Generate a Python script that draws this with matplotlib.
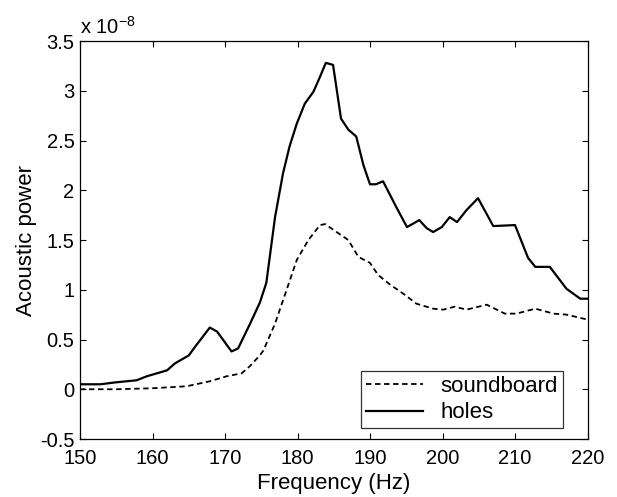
import numpy as np
import matplotlib
matplotlib.use('Agg')
from matplotlib import pyplot as plt
from matplotlib.ticker import FuncFormatter

plt.rcParams['font.family'] = ['Liberation Sans', 'DejaVu Sans']
plt.rcParams['axes.unicode_minus'] = False

# values in units of 1e-8
holes_freq = [150, 152.8, 155, 157.8, 159.2, 162, 163.1, 165, 165.9, 167.9,
              168.9, 170.9, 171.8, 173.4, 174.8, 175.7, 176.9, 178, 178.9,
              179.9, 181, 182.2, 183.1, 183.9, 184.9, 186, 187, 188.1, 189.1,
              190, 190.8, 191.8, 193.7, 195.1, 196.8, 197.8, 198.7, 199.9,
              201, 202, 203.3, 204.9, 207, 210, 211.8, 212.8, 214.8, 217.1,
              219, 220]
holes_power = [0.05, 0.05, 0.07, 0.09, 0.13, 0.19, 0.26, 0.34, 0.43, 0.62,
               0.58, 0.38, 0.41, 0.65, 0.87, 1.07, 1.73, 2.17, 2.44,
               2.67, 2.87, 2.99, 3.14, 3.28, 3.26, 2.72, 2.61, 2.54, 2.25,
               2.06, 2.06, 2.09, 1.82, 1.63, 1.70, 1.62, 1.58, 1.63,
               1.73, 1.68, 1.80, 1.92, 1.64, 1.65, 1.32, 1.23, 1.23, 1.01,
               0.91, 0.91]

sb_freq = [150, 155, 160, 164.7, 167.9, 170.2, 172.3, 173.4, 174.8, 175.3,
           176.9, 178.5, 179.9, 181.5, 183.1, 183.8, 185.4, 187, 188.4, 190,
           191.1, 192.8, 194.6, 196.4, 198.7, 200.1, 201.7, 203.3, 206.1,
           208.6, 210.2, 212.8, 215.3, 217.1, 220]
sb_power = [0.0, 0.0, 0.01, 0.03, 0.08, 0.13, 0.16, 0.23, 0.34, 0.39,
            0.66, 1.0, 1.30, 1.50, 1.65, 1.66, 1.58, 1.50, 1.33, 1.27,
            1.15, 1.05, 0.96, 0.86, 0.81, 0.80, 0.83, 0.80, 0.85,
            0.76, 0.76, 0.81, 0.76, 0.75, 0.70]

scale = 1e-8

fig = plt.figure(figsize=(6.17, 4.97), dpi=100)
ax = fig.add_axes([0.1297, 0.1167, 0.8225, 0.8008])

ax.plot(sb_freq, np.array(sb_power) * scale, color='black', lw=1.3,
        dashes=(3, 2), label='soundboard')
ax.plot(holes_freq, np.array(holes_power) * scale, color='black', lw=1.6,
        label='holes')

ax.set_xlim(150, 220)
ax.set_ylim(-0.5 * scale, 3.5 * scale)
ax.set_xticks(np.arange(150, 221, 10))
ax.set_yticks(np.arange(-0.5, 3.51, 0.5) * scale)
ax.yaxis.set_major_formatter(FuncFormatter(lambda v, p: '%g' % round(v / scale, 2)))

ax.tick_params(direction='in', top=True, right=True, length=4, width=0.8,
               labelsize=14.5)
ax.tick_params(axis='x', pad=7)
ax.tick_params(axis='y', pad=4)
for s in ax.spines.values():
    s.set_linewidth(0.9)

ax.set_xlabel('Frequency (Hz)', fontsize=16, labelpad=4)
ax.set_ylabel('Acoustic power', fontsize=16, labelpad=2)
ax.text(0.0, 1.008, r'x 10$^{\mathregular{-8}}$', transform=ax.transAxes,
        fontsize=14.5, ha='left', va='bottom')

leg = ax.legend(loc='lower right', bbox_to_anchor=(0.951, 0.027),
                fontsize=16, frameon=True, fancybox=False, handlelength=2.55,
                borderpad=0.22, labelspacing=0.25, handletextpad=0.8,
                borderaxespad=0)
leg.get_frame().set_edgecolor('black')
leg.get_frame().set_linewidth(0.9)

fig.savefig('out.png', dpi=100)
